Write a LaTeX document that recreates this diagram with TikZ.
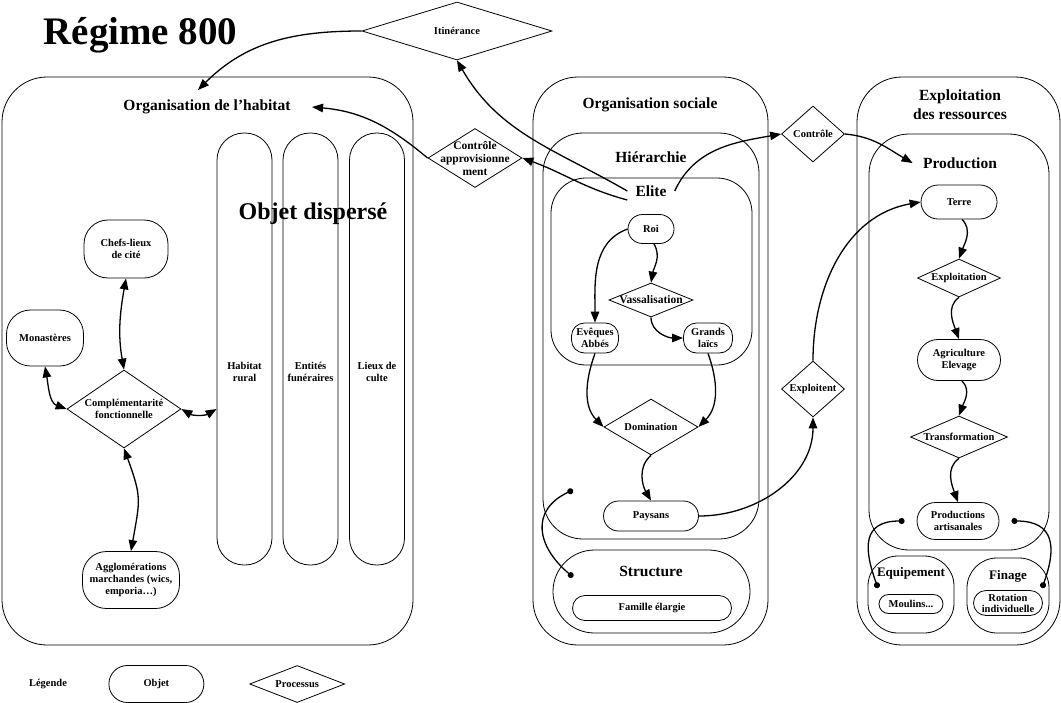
\documentclass[tikz,border=0pt]{standalone}
\usepackage{fontspec}
\setmainfont{Liberation Serif}
\usetikzlibrary{arrows.meta,positioning,shapes.geometric,shapes.misc}

\tikzset{
  sz/.style n args={2}{minimum width=#1pt,minimum height=#2pt},
  zone/.style={draw,line width=0.8pt,rounded corners=45pt,inner sep=0pt},
  objet/.style={draw,line width=0.8pt,rounded rectangle,inner sep=0pt},
  plat/.style={draw,line width=0.8pt,rectangle,rounded corners=#1,inner sep=0pt},
  plat/.default=24pt,
  proc/.style={draw,line width=0.8pt,diamond,inner sep=0pt},
  lbl/.style={align=center,font=\bfseries\fontsize{10.5}{12}\selectfont},
  lblg/.style={align=center,font=\bfseries\fontsize{11.5}{13}\selectfont},
  titre/.style={align=center,font=\bfseries\fontsize{15.5}{19}\selectfont},
  stitre/.style={align=center,font=\bfseries\fontsize{13}{15}\selectfont},
  lien/.style={line width=1.3pt,-{Triangle[length=11pt,width=8.5pt]}},
  duo/.style={line width=1.3pt,{Triangle[length=11pt,width=8.5pt]}-{Triangle[length=11pt,width=8.5pt]}},
  attache/.style={line width=1.3pt,{Circle[length=6pt]}-{Circle[length=6pt]}},
}

\begin{document}
\begin{tikzpicture}[x=1pt,y=1pt]
\useasboundingbox (0,0) rectangle (1061,-702);

\node[anchor=base west,font=\bfseries\fontsize{39}{44}\selectfont] (regime) at (40,-44) {Régime 800};

% organisation de l'habitat
\node[zone,sz={411}{568}] (habitat) at (207.5,-361) {};
\node[titre] (thab) at (207,-107) {Organisation de l’habitat};
\node[draw,line width=0.8pt,rounded corners=27pt,sz={55}{432}] (rural) at (244.5,-349) {};
\node[draw,line width=0.8pt,rounded corners=27pt,sz={55}{432}] (funer) at (310.5,-349) {};
\node[draw,line width=0.8pt,rounded corners=27pt,sz={55}{432}] (culte) at (377,-349) {};
\node[lbl] (trural) at ([yshift=-23pt]rural.center) {Habitat\\rural};
\node[lbl] (tfuner) at ([yshift=-23pt]funer.center) {Entités\\funéraires};
\node[lbl] (tculte) at ([yshift=-23pt]culte.center) {Lieux de\\culte};
\node[font=\bfseries\fontsize{24}{28}\selectfont] (disp) at (313,-214) {Objet dispersé};

\node[plat,sz={84}{58},label={[lbl]center:{Chefs-lieux\\de cité}}] (chef) at (126,-249) {};
\node[plat,sz={77}{56},label={[lbl]center:Monastères}] (mona) at (45,-338) {};
\node[proc,sz={114}{78},label={[lbl]center:{Complémentarité\\fonctionnelle}}] (comp) at (124,-409) {};
\node[plat,sz={97}{57},label={[lbl]center:{Agglomérations\\marchandes (wics,\\emporia…)}}] (aggl) at (131,-580) {};

\draw[duo] (chef.south) to[out=-100,in=100] (comp.north);
\draw[duo] (mona.south) to[out=-80,in=160] (comp.west);
\draw[duo] (comp.east) to[out=-30,in=210] (rural.west |- comp.east);
\draw[duo] (comp.south) to[out=-70,in=80,looseness=1.3] (aggl.north);

% organisation sociale
\node[zone,sz={235}{568}] (social) at (650.5,-361) {};
\node[titre] (tsoc) at (650,-105) {Organisation sociale};
\node[zone,rounded corners=40pt,sz={216}{406}] (hier) at (651,-336) {};
\node[titre] (thier) at (651,-157) {Hiérarchie};
\node[zone,rounded corners=35pt,sz={201}{187}] (elite) at (651.5,-271.5) {};
\node[titre,inner xsep=8pt] (telite) at (651,-191) {Elite};

\node[objet,sz={46}{29},label={[lbl]center:Roi}] (roi) at (651,-229) {};
\node[proc,sz={84}{34},label={[lblg]center:Vassalisation}] (vass) at (651,-300) {};
\node[plat=13pt,sz={47}{30},label={[lbl]center:{Evêques\\Abbés}}] (eveq) at (595,-338) {};
\node[plat=13pt,sz={49}{30},label={[lbl]center:{Grands\\laïcs}}] (grands) at (708,-338) {};
\node[proc,sz={94}{56},label={[lbl]center:Domination}] (domi) at (651,-427) {};
\node[objet,sz={95}{30},label={[lbl]center:Paysans}] (paysans) at (651,-516) {};

\node[objet,sz={197}{83}] (struct) at (651.5,-591.5) {};
\node[titre] (tstruct) at (651,-571) {Structure};
\node[objet,sz={159}{25},label={[lbl]center:Famille élargie}] (famille) at (652,-608) {};

\draw[lien] (roi.west) to[out=200,in=90] (eveq.north);
\draw[lien] ([xshift=3pt]roi.south) to[out=-60,in=80] (vass.north);
\draw[lien] (vass.south) to[out=-90,in=180] (grands.west);
\draw[lien] (eveq.south) to[out=-110,in=135] (domi.west);
\draw[lien] (grands.south) to[out=-70,in=45] (domi.east);
\draw[lien] (domi.south) to[out=-140,in=120] (paysans.north);
\coordinate (hdot) at (573,-490);
\coordinate (sdot) at (573,-577);
\draw[attache] (hdot) to[out=205,in=140,looseness=1.4] (sdot);

% liens entre zones
\node[proc,sz={190}{58},label={[lbl]center:Itinérance}] (itin) at (457,-31) {};
\node[proc,sz={94}{59},label={[lblg]center:{Contrôle\\approvisionne\\ment}}] (ctrlap) at (475,-158) {};
\node[proc,sz={63}{56},label={[lbl]center:Contrôle}] (ctrl) at (813,-134) {};
\node[proc,sz={63}{56},label={[lbl]center:Exploitent}] (expl) at (813,-389) {};
\coordinate (habin) at (198,-90);
\coordinate (habtitre) at ([xshift=18pt]thab.east);

\draw[lien] (itin.west) to[out=180,in=45] (habin);
\draw[lien] (telite.west) to[out=150,in=-60] (itin.south);
\draw[lien] (telite.south west) to[out=165,in=-20] (ctrlap.east);
\draw[lien] (ctrlap.west) to[out=140,in=-5] (habtitre);
\draw[lien] (telite.east) to[out=65,in=190] (ctrl.west);

% exploitation des ressources
\node[zone,sz={203}{568}] (ressources) at (958.5,-361) {};
\node[titre] (tres) at (960,-105) {Exploitation\\des ressources};
\node[zone,rounded corners=40pt,sz={180}{416}] (prod) at (959,-342) {};
\node[titre] (tprod) at (960,-163) {Production};
\coordinate (prodin) at ([xshift=-7pt]tprod.west);

\node[objet,sz={76}{34},label={[lbl]center:Terre}] (terre) at (959,-202) {};
\node[proc,sz={83}{38},label={[lbl]center:Exploitation}] (exploi) at (959,-278) {};
\node[objet,sz={83}{41},label={[lbl]center:{Agriculture\\Elevage}}] (agri) at (959,-360) {};
\node[proc,sz={97}{42},label={[lbl]center:Transformation}] (transf) at (959,-437) {};
\node[objet,sz={82}{37},label={[lbl]center:{Productions\\artisanales}}] (artis) at (958,-521) {};

\node[zone,rounded corners=30pt,sz={86}{77}] (equip) at (911,-594.5) {};
\node[stitre] (tequip) at (911,-573) {Equipement};
\node[objet,sz={64}{19},label={[lbl]center:Moulins...}] (moulins) at (911,-604) {};
\node[zone,rounded corners=30pt,sz={82}{75}] (finage) at (1008,-595.5) {};
\node[stitre] (tfin) at (1008,-576) {Finage};
\node[objet,sz={69}{25},label={[lbl,font=\bfseries\fontsize{10.5}{11}\selectfont]center:{Rotation\\individuelle}}] (rotation) at (1008,-603) {};

\draw[lien] (ctrl.east) to[out=-5,in=150] (prodin);
\draw[lien] (paysans.east) to[out=0,in=-90] (expl.south);
\draw[lien] (expl.north) to[out=90,in=190] (terre.west);
\draw[lien] ([xshift=3pt]terre.south) to[out=-45,in=70] (exploi.north);
\draw[lien] (exploi.south) to[out=-145,in=110] (agri.north);
\draw[lien] ([xshift=3pt]agri.south) to[out=-45,in=70] (transf.north);
\draw[lien] (transf.south) to[out=-145,in=110] (artis.north);
\coordinate (adot) at ([xshift=-12pt]artis.west);
\coordinate (edot) at (878,-588);
\coordinate (bdot) at ([xshift=12pt]artis.east);
\coordinate (fdot) at (1042,-588);
\draw[attache] (edot) to[out=110,in=180,looseness=1.5] (adot);
\draw[attache] (bdot) to[out=0,in=70,looseness=1.5] (fdot);

% legende
\node[lbl] (leg) at (48,-684) {Légende};
\node[objet,sz={95}{37},right=38pt of leg,label={[lbl]center:Objet}] (lobj) {};
\node[proc,sz={95}{37},right=45pt of lobj,label={[lbl]center:Processus}] (lproc) {};
\end{tikzpicture}
\end{document}
